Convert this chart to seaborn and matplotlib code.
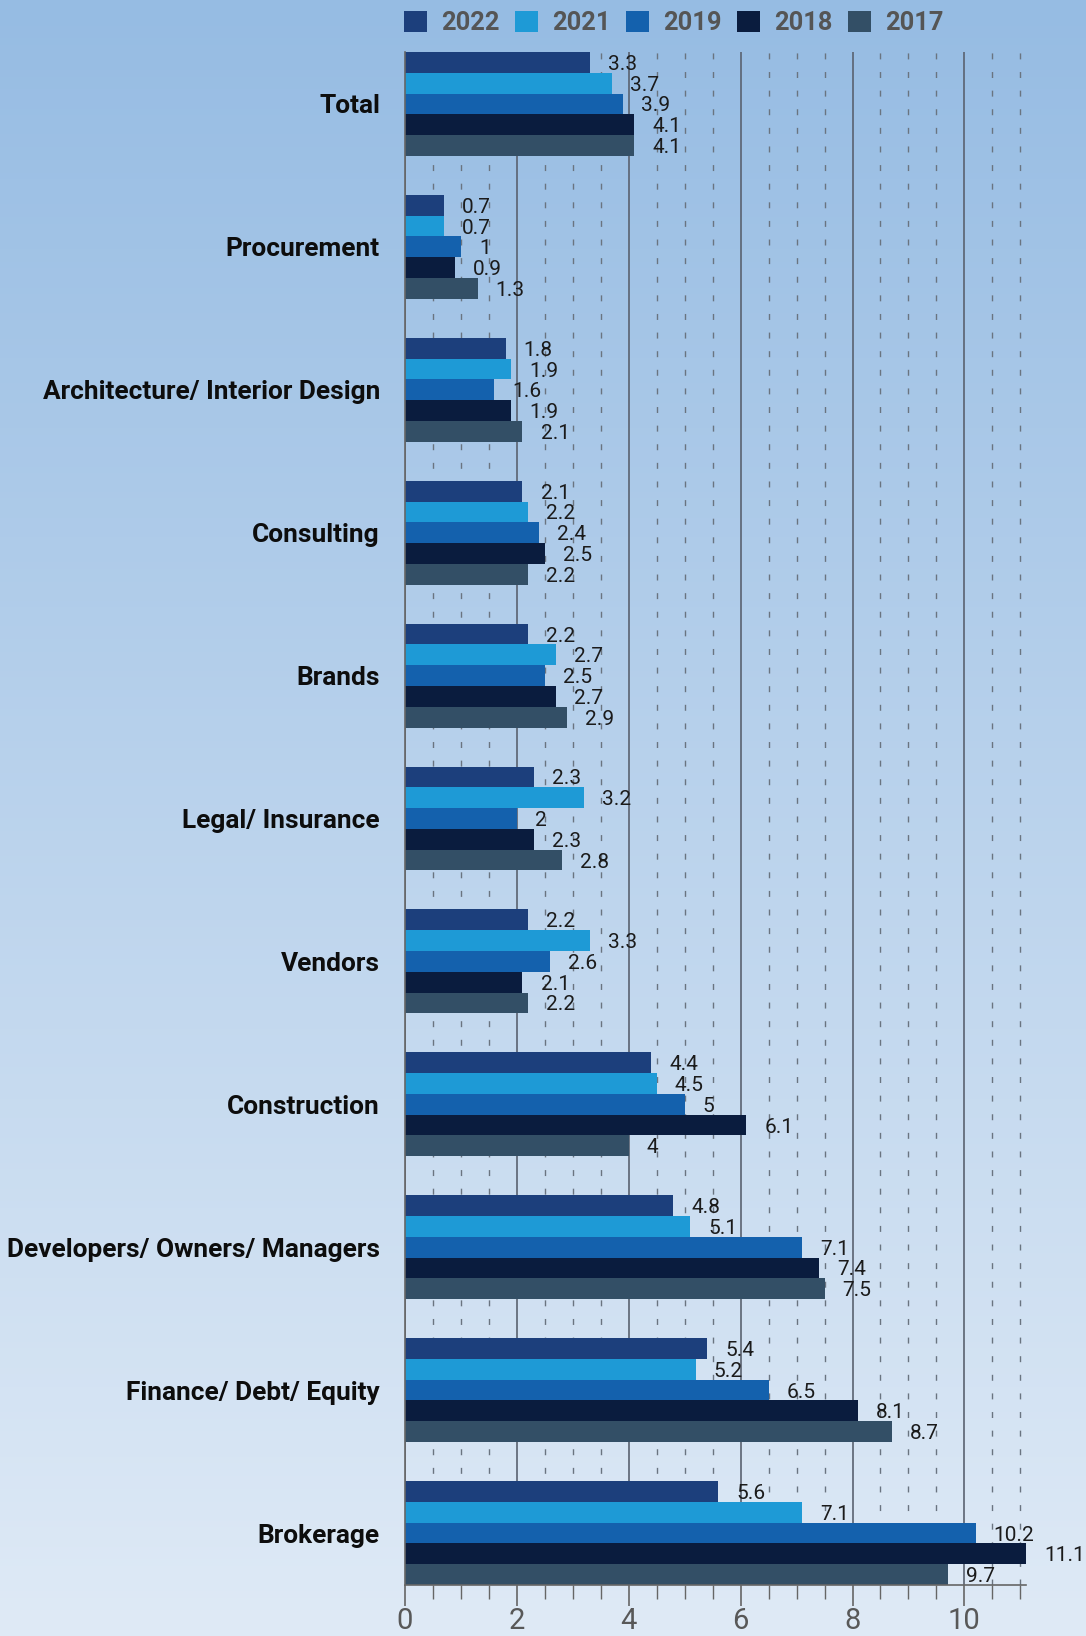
import numpy as np
import pandas as pd
import matplotlib
matplotlib.use("Agg")
import matplotlib.pyplot as plt
from matplotlib.patches import Patch
from matplotlib.ticker import MultipleLocator
import seaborn as sns

# Survey categories (top to bottom) and the yearly values per category
categories = [
    "Total",
    "Procurement",
    "Architecture/ Interior Design",
    "Consulting",
    "Brands",
    "Legal/ Insurance",
    "Vendors",
    "Construction",
    "Developers/ Owners/ Managers",
    "Finance/ Debt/ Equity",
    "Brokerage",
]
years = ["2022", "2021", "2019", "2018", "2017"]

values_2022 = [3.3, 0.7, 1.8, 2.1, 2.2, 2.3, 2.2, 4.4, 4.8, 5.4, 5.6]
values_2021 = [3.7, 0.7, 1.9, 2.2, 2.7, 3.2, 3.3, 4.5, 5.1, 5.2, 7.1]
values_2019 = [3.9, 1.0, 1.6, 2.4, 2.5, 2.0, 2.6, 5.0, 7.1, 6.5, 10.2]
values_2018 = [4.1, 0.9, 1.9, 2.5, 2.7, 2.3, 2.1, 6.1, 7.4, 8.1, 11.1]
values_2017 = [4.1, 1.3, 2.1, 2.2, 2.9, 2.8, 2.2, 4.0, 7.5, 8.7, 9.7]

year_colors = ["#1c3f7c", "#1e9ad6", "#1461ad", "#0a1c3e", "#334f66"]

series = [values_2022, values_2021, values_2019, values_2018, values_2017]
df = pd.DataFrame(
    [(cat, yr, v) for yr, vals in zip(years, series) for cat, v in zip(categories, vals)],
    columns=["category", "year", "value"],
)

sns.set_style("white")
plt.rcParams["font.family"] = ["Roboto", "DejaVu Sans"]

fig = plt.figure(figsize=(10.86, 16.36), dpi=100)

# Vertical gradient background
bg = fig.add_axes([0, 0, 1, 1], zorder=-10)
top = np.array([150, 188, 227]) / 255.0
bottom = np.array([223, 234, 246]) / 255.0
t = np.linspace(0, 1, 256)[:, None]
grad = (top[None, :] * (1 - t) + bottom[None, :] * t)[:, None, :]
bg.imshow(grad, aspect="auto", extent=[0, 1, 0, 1], origin="upper")
bg.axis("off")

ax = fig.add_axes([0.3729, 0.0312, 0.5718, 0.9370])
ax.patch.set_alpha(0)

group_width = 0.727
sns.barplot(
    data=df, y="category", x="value", hue="year",
    order=categories, hue_order=years, palette=year_colors,
    orient="h", width=group_width, gap=0, saturation=1,
    errorbar=None, linewidth=0, legend=False, ax=ax,
)

for cont in ax.containers:
    texts = ax.bar_label(cont, fmt="{:g}", padding=13, fontsize=15, color="#1b1b1b")
    for txt in texts:
        txt.set_verticalalignment("center_baseline")

ax.set_xlim(0, 11.1)
ax.set_ylim(len(categories) - 1 + group_width / 2, -group_width / 2)
ax.set_xlabel("")
ax.set_ylabel("")

ax.xaxis.set_major_locator(MultipleLocator(2))
ax.xaxis.set_minor_locator(MultipleLocator(0.5))
ax.set_axisbelow(True)
ax.grid(axis="x", which="major", color="#5a6270", linewidth=1.2, linestyle="-")
ax.grid(axis="x", which="minor", color="#6a7480", linewidth=1.0, linestyle=(0, (4.3, 9.1)))
ax.grid(axis="y", visible=False)

for side in ["top", "right"]:
    ax.spines[side].set_visible(False)
for side in ["left", "bottom"]:
    ax.spines[side].set_color("#666666")
    ax.spines[side].set_linewidth(1.2)

ax.tick_params(axis="x", which="major", direction="out", length=15, width=1.2,
               color="#666666", labelsize=21, labelcolor="#585858", pad=1, bottom=True)
ax.tick_params(axis="x", which="minor", direction="out", length=10, width=1.0,
               color="#666666", bottom=True)
ax.tick_params(axis="y", length=0, pad=18, labelsize=18.9, labelcolor="#0d0d0d")
for lbl in ax.get_yticklabels():
    lbl.set_fontweight("bold")

handles = [Patch(facecolor=c, edgecolor="none", label=y) for c, y in zip(year_colors, years)]
fig.legend(
    handles=handles, loc="center left", bbox_to_anchor=(404 / 1086, 1 - 23 / 1636),
    ncol=5, frameon=False, handlelength=0.9, handleheight=0.9,
    handletextpad=0.55, columnspacing=0.62, borderpad=0, borderaxespad=0,
    prop={"weight": "bold", "size": 18.3},
    labelcolor="#555555",
)

fig.savefig("out.png", dpi=100)
